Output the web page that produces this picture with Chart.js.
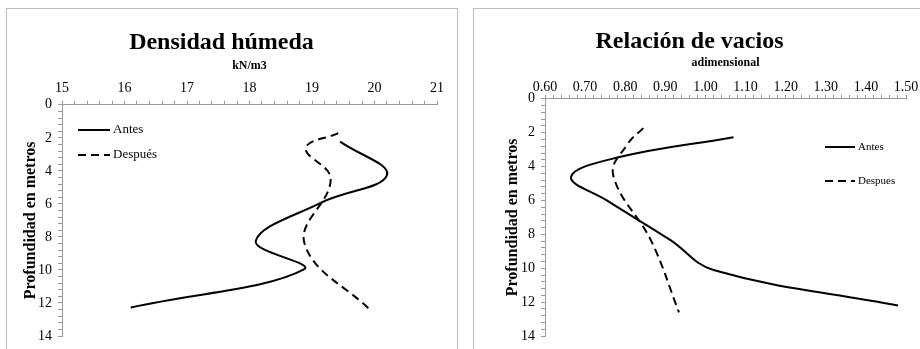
<!DOCTYPE html>
<html>
<head>
<meta charset="utf-8">
<script src="https://cdn.jsdelivr.net/npm/chart.js@4.4.0/dist/chart.umd.min.js"></script>
<style>
  body { margin: 0; background: #fff; width: 920px; height: 349px; overflow: hidden; position: relative; }
  .marco { position: absolute; top: 8px; width: 452px; height: 345px; border: 1px solid #bdbdbd; border-bottom: none; box-sizing: border-box; }
  .caja { position: absolute; top: 8px; width: 452px; height: 341px; }
</style>
</head>
<body>
<div class="marco" style="left:6px"></div>
<div class="marco" style="left:473px"></div>
<div class="caja" style="left:6px"><canvas id="densidad"></canvas></div>
<div class="caja" style="left:473px"><canvas id="vacios"></canvas></div>
<script>
// densidad humeda (kN/m3) vs profundidad (m)
const profAntesDens = [2.23, 4.25, 5.95, 8.25, 9.97, 12.27];
const densAntes = [19.45, 20.2, 19.13, 18.1, 18.87, 16.1];
const profDespuesDens = [1.72, 2.63, 4.5, 8.4, 12.5];
const densDespues = [19.42, 18.9, 19.3, 18.88, 19.95];

// relacion de vacios (adimensional) vs profundidad (m)
const profAntesVac = [2.27, 3.47, 4.6, 6.0, 8.33, 10.1, 12.2];
const vacAntes = [1.07, 0.78, 0.665, 0.754, 0.912, 1.02, 1.48];
const profDespuesVac = [1.73, 2.7, 4.5, 8.4, 12.6];
const vacDespues = [0.845, 0.805, 0.77, 0.865, 0.934];

const fuente = "'Liberation Serif', 'Times New Roman', serif";

function puntos(xs, ys) {
  return xs.map((v, i) => ({ x: v, y: ys[i] }));
}

// lista de marcas desde min hasta max (incluye las menores)
function marcas(min, max, paso) {
  let lista = [];
  let n = Math.round((max - min) / paso);
  for (let i = 0; i <= n; i++) {
    lista.push({ value: +(min + i * paso).toFixed(4) });
  }
  return lista;
}

function multiplo(v, m) {
  return Math.abs(v / m - Math.round(v / m)) < 1e-6;
}

const leyendaLinea = {
  id: 'leyendaLinea',
  afterDraw(chart, args, opts) {
    const ctx = chart.ctx;
    ctx.save();
    chart.data.datasets.forEach((ds, i) => {
      let y = opts.y + i * opts.salto;
      ctx.strokeStyle = ds.borderColor;
      ctx.lineWidth = ds.borderWidth;
      ctx.setLineDash(ds.borderDash || []);
      ctx.beginPath();
      ctx.moveTo(opts.x, y);
      ctx.lineTo(opts.x + opts.largo, y);
      ctx.stroke();
      ctx.setLineDash([]);
      ctx.fillStyle = '#000';
      ctx.font = opts.tam + 'px ' + fuente;
      ctx.textBaseline = 'middle';
      ctx.fillText(ds.label, opts.x + opts.largo + 3, y);
    });
    ctx.restore();
  }
};

function serie(nombre, datos, guiones) {
  return {
    label: nombre,
    data: datos,
    showLine: true,
    borderColor: '#000',
    backgroundColor: '#000',
    borderWidth: 2,
    borderDash: guiones,
    pointRadius: 0,
    tension: 0.4,
    fill: false
  };
}

function grafica(id, cfg) {
  new Chart(document.getElementById(id), {
    type: 'scatter',
    data: {
      datasets: [
        serie(cfg.nombres[0], cfg.antes, []),
        serie(cfg.nombres[1], cfg.despues, [8, 5])
      ]
    },
    options: {
      responsive: true,
      maintainAspectRatio: false,
      animation: false,
      layout: { padding: cfg.padding },
      plugins: {
        legend: { display: false },
        tooltip: { enabled: false },
        title: {
          display: true,
          text: cfg.titulo,
          color: '#000',
          font: { family: fuente, size: 24, weight: 'bold' },
          padding: cfg.padTitulo
        },
        leyendaLinea: cfg.leyenda
      },
      scales: {
        x: {
          type: 'linear',
          position: 'top',
          min: cfg.xMin,
          max: cfg.xMax,
          afterBuildTicks: a => { a.ticks = marcas(cfg.xMin, cfg.xMax, cfg.xMenor); },
          afterFit: a => { a.height = cfg.altoX; },
          ticks: {
            autoSkip: false,
            maxRotation: 0,
            padding: cfg.padTickX,
            color: '#000',
            font: { family: fuente, size: 14, lineHeight: 1 },
            callback: v => multiplo(v, cfg.xMayor) ? v.toFixed(cfg.decimales) : ''
          },
          grid: { drawOnChartArea: false, tickLength: 4, color: '#9a9a9a' },
          border: { color: '#9a9a9a' },
          title: {
            display: true,
            text: cfg.unidad,
            color: '#000',
            font: { family: fuente, size: 12, weight: 'bold' },
            padding: 0
          }
        },
        y: {
          type: 'linear',
          reverse: true,
          min: 0,
          max: 14,
          afterBuildTicks: a => { a.ticks = marcas(0, 14, 0.4); },
          afterFit: a => { a.width = cfg.anchoY; },
          ticks: {
            autoSkip: false,
            padding: 6,
            color: '#000',
            font: { family: fuente, size: 14, lineHeight: 1 },
            callback: v => multiplo(v, 2) ? String(Math.round(v)) : ''
          },
          grid: { drawOnChartArea: false, tickLength: 4, color: '#9a9a9a' },
          border: { color: '#9a9a9a' },
          title: {
            display: true,
            text: 'Profundidad en metros',
            color: '#000',
            font: { family: fuente, size: 16, weight: 'bold' },
            padding: { top: cfg.padTituloY, bottom: 0 }
          }
        }
      }
    },
    plugins: [leyendaLinea]
  });
}

grafica('densidad', {
  titulo: 'Densidad húmeda',
  unidad: 'kN/m3',
  nombres: ['Antes', 'Después'],
  antes: puntos(densAntes, profAntesDens),
  despues: puntos(densDespues, profDespuesDens),
  xMin: 15, xMax: 21, xMenor: 0.2, xMayor: 1, decimales: 0,
  padding: { left: 0, right: 21, top: 0, bottom: 11 },
  padTitulo: { top: 20, bottom: 2 },
  altoX: 46, padTickX: 5, anchoY: 56, padTituloY: 15,
  leyenda: { x: 72, y: 122, salto: 25, largo: 32, tam: 13 }
});

grafica('vacios', {
  titulo: 'Relación de vacios',
  unidad: 'adimensional',
  nombres: ['Antes', 'Despues'],
  antes: puntos(vacAntes, profAntesVac),
  despues: puntos(vacDespues, profDespuesVac),
  xMin: 0.6, xMax: 1.5, xMenor: 0.02, xMayor: 0.1, decimales: 2,
  padding: { left: 0, right: 19, top: 0, bottom: 10 },
  padTitulo: { top: 19, bottom: 0 },
  altoX: 43, padTickX: 0, anchoY: 72, padTituloY: 30,
  leyenda: { x: 352, y: 139, salto: 34, largo: 30, tam: 11 }
});
</script>
</body>
</html>
